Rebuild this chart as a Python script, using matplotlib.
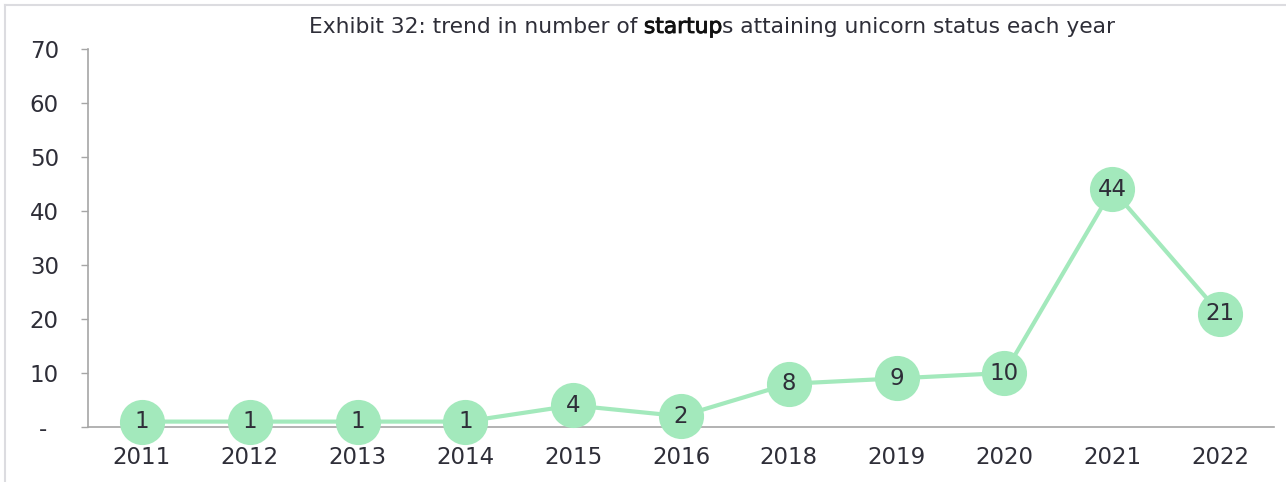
import matplotlib
matplotlib.use("Agg")
import matplotlib.pyplot as plt
from matplotlib.lines import Line2D
import matplotlib.patheffects as pe

years = ["2011", "2012", "2013", "2014", "2015", "2016", "2018", "2019", "2020", "2021", "2022"]
unicorns = [1, 1, 1, 1, 4, 2, 8, 9, 10, 44, 21]
yticks = [0, 10, 20, 30, 40, 50, 60, 70]
ytick_labels = ["-\u2002", "10", "20", "30", "40", "50", "60", "70"]

TXT = "#2e2e38"
GREEN = "#a3e9bc"
AXC = "#a6a6a6"

plt.rcParams['font.family'] = ['DejaVu Sans']

W, H = 1286, 482
fig = plt.figure(figsize=(W / 100, H / 100), dpi=100)
ax = fig.add_axes([88 / W, 1 - 427 / H, (1274 - 88) / W, (427 - 49) / H])

x = list(range(len(years)))
ax.plot(x, unicorns, color=GREEN, lw=3, zorder=2, solid_capstyle='round')
ax.plot(x, unicorns, 'o', color=GREEN, ms=32.5, mec='none', zorder=3, clip_on=False)
for xi, v in zip(x, unicorns):
    ax.text(xi, v, str(v), ha='center', va='center', fontsize=16.5, color=TXT, zorder=4)

ax.set_xlim(-0.5, len(years) - 0.5)
ax.set_ylim(0, 70)
ax.set_yticks(yticks)
ax.set_yticklabels(ytick_labels)
ax.set_xticks(x)
ax.set_xticklabels(years)
ax.tick_params(axis='y', length=5, width=1, color=AXC, labelsize=16.5, labelcolor=TXT, pad=16)
ax.tick_params(axis='x', length=0, labelsize=16.5, labelcolor=TXT, pad=14)
for s in ['top', 'right']:
    ax.spines[s].set_visible(False)
for s in ['left', 'bottom']:
    ax.spines[s].set_color(AXC)
    ax.spines[s].set_linewidth(1.2)

# Title with emphasised "startup"
parts = [("Exhibit 32: trend in number of ", False), ("startup", True),
         ("s attaining unicorn status each year", False)]
fig.canvas.draw()
r = fig.canvas.get_renderer()
tmp = []
total = 0
for s, emph in parts:
    t = fig.text(0, 0, s, fontsize=15.7, color='#111111' if emph else TXT)
    if emph:
        t.set_path_effects([pe.withStroke(linewidth=0.6, foreground='#111111')])
    bb = t.get_window_extent(renderer=r)
    tmp.append((t, bb.width))
    total += bb.width
cx = 712
xpos = cx - total / 2
ty = 1 - 27 / H
for t, wdt in tmp:
    t.set_position((xpos / W, ty))
    t.set_va('center')
    xpos += wdt

# border lines
fig.add_artist(Line2D([5 / W, 1], [1 - 5 / H, 1 - 5 / H], color="#dcdce0", lw=1.5, transform=fig.transFigure))
fig.add_artist(Line2D([5 / W, 5 / W], [0, 1 - 5 / H], color="#dcdce0", lw=1.5, transform=fig.transFigure))

fig.savefig("out.png", dpi=100)
